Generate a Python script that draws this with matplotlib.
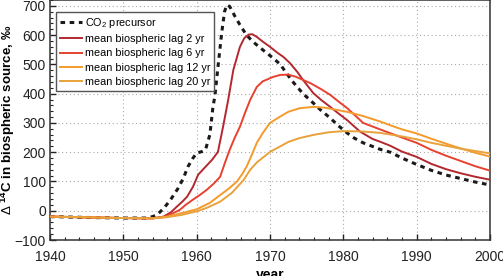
import numpy as np
import matplotlib
matplotlib.use("Agg")
import matplotlib.pyplot as plt
from matplotlib.ticker import MultipleLocator

plt.rcParams['font.family'] = ['Liberation Sans', 'DejaVu Sans']
plt.rcParams['mathtext.fontset'] = 'custom'
plt.rcParams['mathtext.rm'] = 'Liberation Sans'
plt.rcParams['mathtext.it'] = 'Liberation Sans:italic'
plt.rcParams['mathtext.bf'] = 'Liberation Sans:bold'

# CO2 precursor (dashed)
co2_years = [1940, 1945, 1950, 1953, 1954, 1954.6, 1955.5, 1956.4, 1957.5, 1958.2, 1958.8,
             1959.5, 1960, 1960.7, 1961.2, 1961.8, 1962.2, 1962.5, 1962.9, 1963.4, 1963.8,
             1964.1, 1964.5, 1965.2, 1965.9, 1966.8, 1967.7, 1968.5, 1969.6, 1970.5, 1971.4,
             1972.3, 1973.2, 1974.5, 1975.9, 1977, 1978.2, 1979.3, 1980.5, 1981.5, 1982.7,
             1985, 1986.4, 1988, 1990, 1992, 1994, 1996, 1998, 2000]
co2_vals = [-20, -23, -25, -25, -20, -14, 8, 36, 78, 112, 150,
            180, 197, 202, 208, 260, 350, 395, 490, 605, 680,
            703, 698, 665, 635, 600, 577, 560, 538, 520, 500,
            468, 438, 400, 368, 342, 317, 291, 266, 248, 232,
            210, 200, 180, 158, 138, 122, 110, 98, 88]

# mean biospheric lag 2 yr
lag2_years = [1940, 1945, 1950, 1954, 1955.5, 1956.5, 1957.3, 1958, 1958.7, 1959.5, 1960.2,
              1961.2, 1962.1, 1962.9, 1963.6, 1964.3, 1965, 1965.9, 1966.5, 1967.1, 1967.6,
              1968.2, 1969, 1970, 1971, 1971.8, 1972.7, 1973.7, 1974.5, 1975.9, 1977, 1978.2,
              1979.3, 1980.5, 1982.3, 1984, 1985, 1986.4, 1988, 1990, 1992, 1994, 1996, 1998, 2000]
lag2_vals = [-20, -23, -25, -26, -20, -5, 14, 30, 48, 82, 123,
             150, 174, 201, 287, 379, 481, 560, 590, 602, 603,
             594, 578, 560, 540, 526, 505, 475, 447, 402, 378, 355,
             333, 310, 270, 245, 236, 222, 202, 184, 160, 142, 128, 116, 106]

# mean biospheric lag 6 yr
lag6_years = [1940, 1950, 1954, 1955.5, 1956.5, 1957.7, 1958.5, 1959.5, 1960.5, 1961.4, 1962.3,
              1963.2, 1963.8, 1964.5, 1965.2, 1965.9, 1966.6, 1967.3, 1968.2, 1969, 1970.4,
              1971.4, 1972.5, 1973.5, 1975.5, 1977, 1978.2, 1979.5, 1980.5, 1981.5, 1982.7,
              1985, 1986.4, 1988, 1990, 1992, 1994, 1996, 1998, 2000]
lag6_vals = [-20, -25, -26, -22, -12, 3, 20, 38, 55, 72, 92,
             116, 160, 208, 250, 287, 335, 379, 423, 442, 457,
             464, 465, 458, 436, 415, 396, 370, 351, 328, 300,
             278, 265, 250, 232, 208, 188, 170, 152, 137]

# mean biospheric lag 12 yr
lag12_years = [1940, 1950, 1954, 1956, 1958, 1960, 1961.8, 1963.6, 1964.5, 1965.5, 1966.2,
               1966.8, 1967.5, 1968.2, 1969, 1970, 1971.4, 1972.5, 1974, 1975.9, 1977.5,
               1979, 1980.5, 1982.5, 1985, 1986.4, 1988, 1990, 1992, 1994, 1996, 1998, 2000]
lag12_vals = [-20, -25, -26, -20, -8, 5, 27, 61, 78, 100, 125,
              150, 190, 232, 265, 300, 322, 338, 350, 355, 352,
              345, 338, 325, 305, 292, 278, 264, 246, 229, 213, 198, 185]

# mean biospheric lag 20 yr
lag20_years = [1940, 1950, 1954, 1956, 1958, 1960, 1961.4, 1963.2, 1964.8, 1966.4, 1967.3,
               1968.2, 1970, 1971.4, 1972.5, 1974, 1975.9, 1978, 1980, 1982.5, 1985,
               1988, 1990, 1992, 1994, 1996, 1998, 2000]
lag20_vals = [-20, -25, -26, -22, -14, -2, 10, 31, 61, 105, 140,
              165, 201, 220, 235, 248, 259, 268, 272, 271, 266,
              254, 244, 232, 222, 212, 204, 196]

fig = plt.figure(figsize=(5.03, 2.76), dpi=100)
ax = fig.add_axes([50 / 503, 1 - 240 / 276, 440 / 503, 240 / 276])

ax.plot(co2_years, co2_vals, color='#1a1a1a', lw=2.2, dashes=(1.5, 1.5),
        label='CO$_2$ precursor', zorder=2)
ax.plot(lag2_years, lag2_vals, color='#b3282f', lw=1.4, label='mean biospheric lag 2 yr', zorder=3)
ax.plot(lag6_years, lag6_vals, color='#e8412f', lw=1.4, label='mean biospheric lag 6 yr', zorder=3)
ax.plot(lag12_years, lag12_vals, color='#f59a2c', lw=1.4, label='mean biospheric lag 12 yr', zorder=3)
ax.plot(lag20_years, lag20_vals, color='#e9a23b', lw=1.4, label='mean biospheric lag 20 yr', zorder=3)

ax.set_xlim(1940, 2000)
ax.set_ylim(-100, 720)
ax.xaxis.set_major_locator(MultipleLocator(10))
ax.xaxis.set_minor_locator(MultipleLocator(2))
ax.yaxis.set_major_locator(MultipleLocator(100))
ax.yaxis.set_minor_locator(MultipleLocator(20))
ax.tick_params(which='both', direction='in', labelsize=10, colors='#222222')
ax.tick_params(which='major', length=4, width=1)
ax.tick_params(axis='x', which='major', pad=7)
ax.tick_params(axis='y', which='major', pad=3)
ax.tick_params(which='minor', length=2, width=0.8)

ax.grid(True, which='major', color='#aaaaaa', lw=0.8, linestyle=(0, (1, 2.5)))
for s in ax.spines.values():
    s.set_color('#333333')
    s.set_linewidth(1.1)

ax.set_xlabel('year', fontsize=10, fontweight='bold', va='top')
ax.xaxis.set_label_coords(0.5, -0.115)
ax.set_ylabel('$\\Delta$ $^{\\mathbf{14}}$C in biospheric source, \u2030',
              fontsize=9.6, fontweight='bold')
ax.yaxis.set_label_coords(-0.074, 0.5)

leg = ax.legend(loc='upper left', bbox_to_anchor=(0.014, 0.95), fontsize=7.8,
                frameon=True, fancybox=False, framealpha=1, edgecolor='#555555',
                handlelength=2.0, handletextpad=0.3, labelspacing=0.4, borderpad=0.35,
                borderaxespad=0)
leg.get_frame().set_linewidth(1.0)

fig.savefig('out.png', dpi=100)
